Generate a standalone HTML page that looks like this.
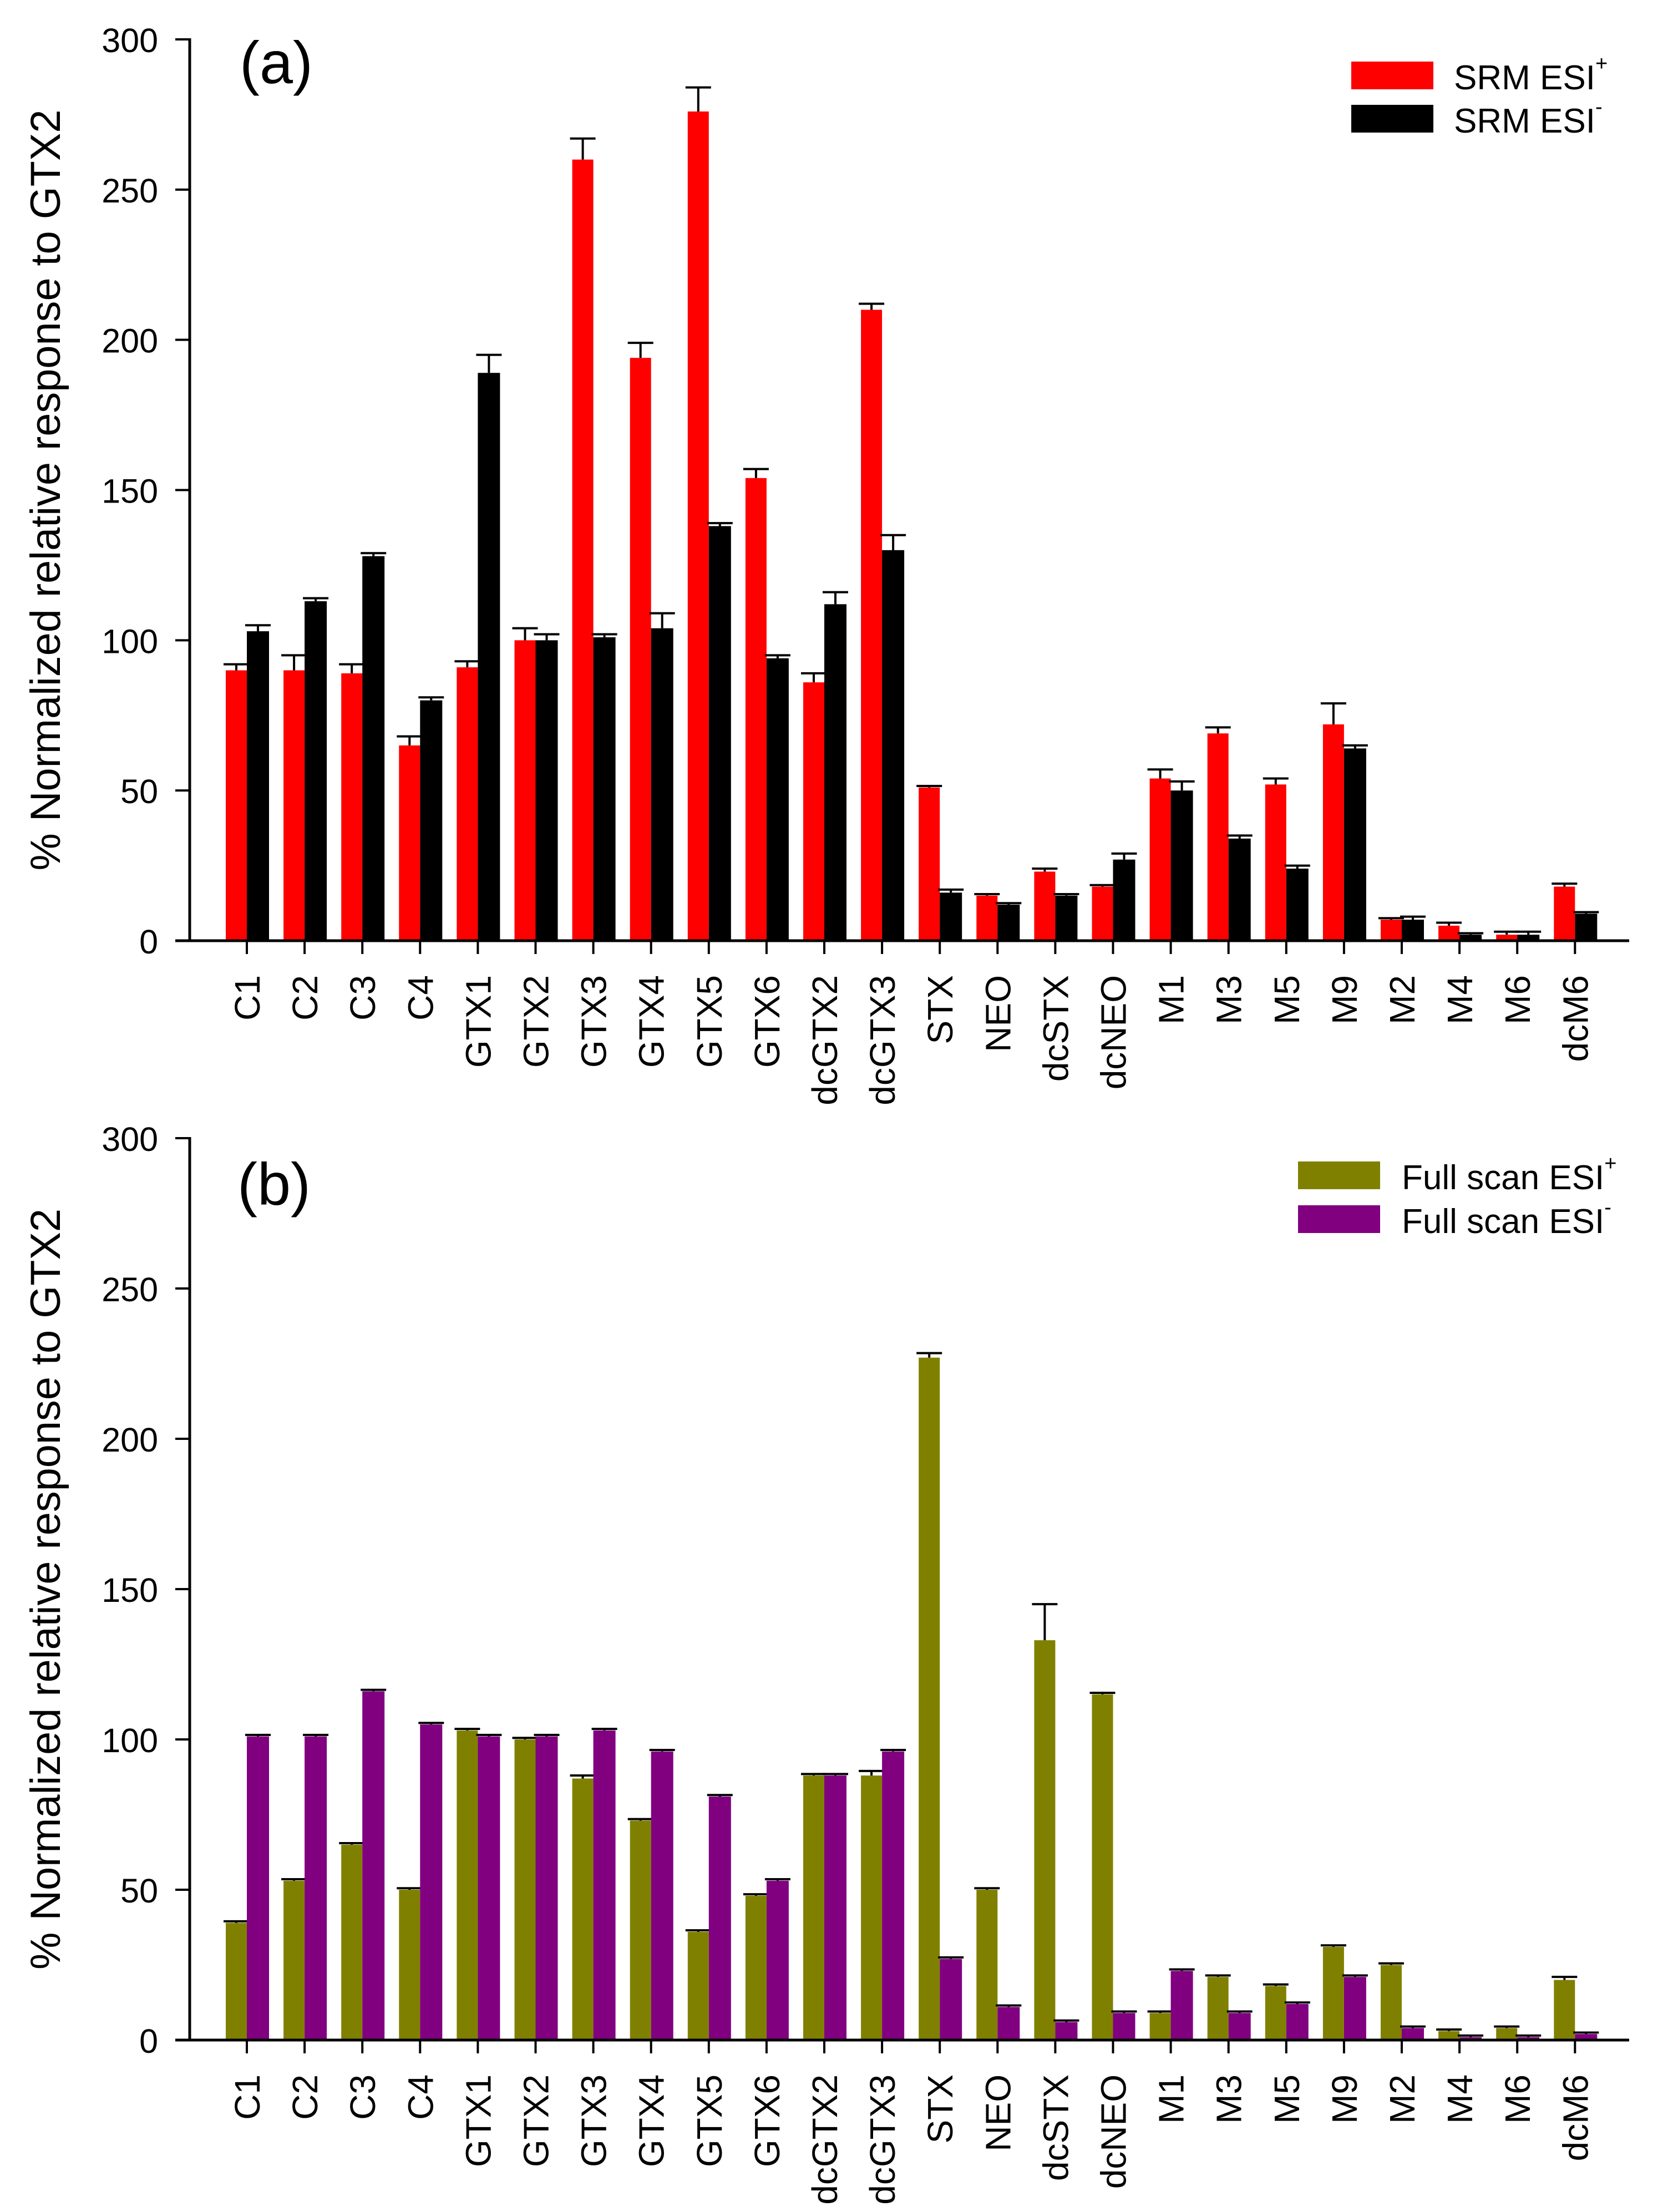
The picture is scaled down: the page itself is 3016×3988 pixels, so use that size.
<!DOCTYPE html>
<html><head><meta charset="utf-8"><style>
html,body{margin:0;padding:0;background:#fff;}
svg{display:block;font-family:"Liberation Sans",Arial,sans-serif;}
</style></head><body>
<svg id="chart" width="3016" height="3988" viewBox="0 0 3016 3988" xmlns="http://www.w3.org/2000/svg">
<rect width="3016" height="3988" fill="#fff"/>
</svg>
<script>
const categories = ["C1","C2","C3","C4","GTX1","GTX2","GTX3","GTX4","GTX5","GTX6","dcGTX2","dcGTX3","STX","NEO","dcSTX","dcNEO","M1","M3","M5","M9","M2","M4","M6","dcM6"];
const yTicks = [0,50,100,150,200,250,300];
const srmPos = [90,90,89,65,91,100,260,194,276,154,86,210,51,15,23,18,54,69,52,72,7,5,2,18];
const srmPosErr = [2,5,3,3,2,4,7,5,8,3,3,2,0.5,0.5,1,0.5,3,2,2,7,0.5,1,1,1];
const srmNeg = [103,113,128,80,189,100,101,104,138,94,112,130,16,12,15,27,50,34,24,64,7,2,2,9];
const srmNegErr = [2,1,1,1,6,2,1,5,1,1,4,5,1,0.5,0.5,2,3,1,1,1,1,0.5,1,0.5];
const fullPos = [39,53,65,50,103,100,87,73,36,48,88,88,227,50,133,115,9,21,18,31,25,3,4,20];
const fullPosErr = [0.5,0.5,0.5,0.5,0.5,0.5,1,0.5,0.5,0.5,0.5,1.5,1.5,0.5,12,0.5,0.5,0.5,0.5,0.5,0.5,0.5,0.5,1];
const fullNeg = [101,101,116,105,101,101,103,96,81,53,88,96,27,11,6,9,23,9,12,21,4,1,1,2];
const fullNegErr = [0.5,0.5,0.5,0.5,0.5,0.5,0.5,0.5,0.5,0.5,0.5,0.5,0.5,0.5,0.5,0.5,0.5,0.5,0.5,0.5,0.5,0.5,0.5,0.5];

const NS = "http://www.w3.org/2000/svg";
const svg = document.getElementById("chart");
function mk(tag, attrs, parent, text) {
  const e = document.createElementNS(NS, tag);
  for (const k in attrs) e.setAttribute(k, attrs[k]);
  if (text !== undefined) e.textContent = text;
  (parent || svg).appendChild(e);
  return e;
}

function panel(opt) {
  const g = mk("g", {});
  
  
  const x0 = 342, xEnd = 2937, y0 = opt.y0, y300 = opt.y300;
  const yS = v => y0 - (v / 300) * (y0 - y300);
  const xS = i => 445 + i * 104.1;
  categories.forEach((c, i) => {
    const cx = xS(i);
    const series = [[opt.pos, opt.posErr, opt.c1, cx - 38, 38, 'pos'], [opt.neg, opt.negErr, opt.c2, cx, 40, 'neg']];
    series.forEach(s => {
      const v = s[0][i], e = s[1][i];
      const r = mk("rect", {x: s[3], y: yS(v), width: s[4], height: y0 - yS(v), fill: s[2]}, g);
      
      
      const bc = s[3] + s[4] / 2;
      const el = mk("path", {d: `M${bc},${yS(v)}V${yS(v + e)}M${bc - 23},${yS(v + e)}H${bc + 23}`, stroke: "#000", "stroke-width": 4, fill: "none"}, g);
      
      
    });
    const t = mk("line", {x1: cx, y1: y0, x2: cx, y2: y0 + 24, stroke: "#000", "stroke-width": 4}, g);
    
    
    const lx = cx + 23, ly = y0 + 62;
    const lbl = mk("text", {x: lx, y: ly, "font-size": 64, "text-anchor": "end", transform: `rotate(-90 ${lx} ${ly})`}, g, c);
    
    
  });
  const ax = mk("path", {d: `M${x0},${y300 - 2}V${y0}M${x0 - 26},${y0}H${xEnd}`, stroke: "#000", "stroke-width": 5, fill: "none"}, g);
  
  
  yTicks.forEach(v => {
    const tk = mk("line", {x1: x0 - 26, y1: yS(v), x2: x0, y2: yS(v), stroke: "#000", "stroke-width": 4}, g);
    
    
    const tl = mk("text", {x: 285, y: yS(v) + 23, "font-size": 61, "text-anchor": "end"}, g, String(v));
    
    
  });
  const cy = (y0 + y300) / 2;
  const yt = mk("text", {x: 108, y: cy, "font-size": 76, "text-anchor": "middle", textLength: 1372, lengthAdjust: "spacingAndGlyphs", transform: `rotate(-90 108 ${cy})`}, g, "% Normalized relative response to GTX2");
  
  
  const pl = mk("text", {x: opt.lblX, y: opt.lblY, "font-size": 108}, g, opt.label);
  
  
  opt.legend.forEach((L, k) => {
    const sw = mk("rect", {x: L.sx, y: L.sy, width: L.sw, height: 50, fill: L.c}, g);
    
    
    const tx = mk("text", {x: L.tx, y: L.sy + 50, "font-size": 62}, g, L.t);
    
    
    mk("tspan", {"font-size": 38, dy: -34}, tx, L.sup);
  });
}

panel({name: "panel-a", y0: 1696, y300: 71, pos: srmPos, posErr: srmPosErr, neg: srmNeg, negErr: srmNegErr,
  c1: "#ff0000", c2: "#000000", label: "(a)", lblX: 432, lblY: 150,
  legend: [{sx: 2436, sy: 111, sw: 148, c: "#ff0000", tx: 2621, t: "SRM ESI", sup: "+"},
           {sx: 2436, sy: 189, sw: 148, c: "#000000", tx: 2621, t: "SRM ESI", sup: "-"}]});
panel({name: "panel-b", y0: 3678, y300: 2052, pos: fullPos, posErr: fullPosErr, neg: fullNeg, negErr: fullNegErr,
  c1: "#808000", c2: "#800080", label: "(b)", lblX: 428, lblY: 2172,
  legend: [{sx: 2340, sy: 2094, sw: 148, c: "#808000", tx: 2527, t: "Full scan ESI", sup: "+"},
           {sx: 2340, sy: 2173, sw: 148, c: "#800080", tx: 2527, t: "Full scan ESI", sup: "-"}]});
</script>
</body></html>
